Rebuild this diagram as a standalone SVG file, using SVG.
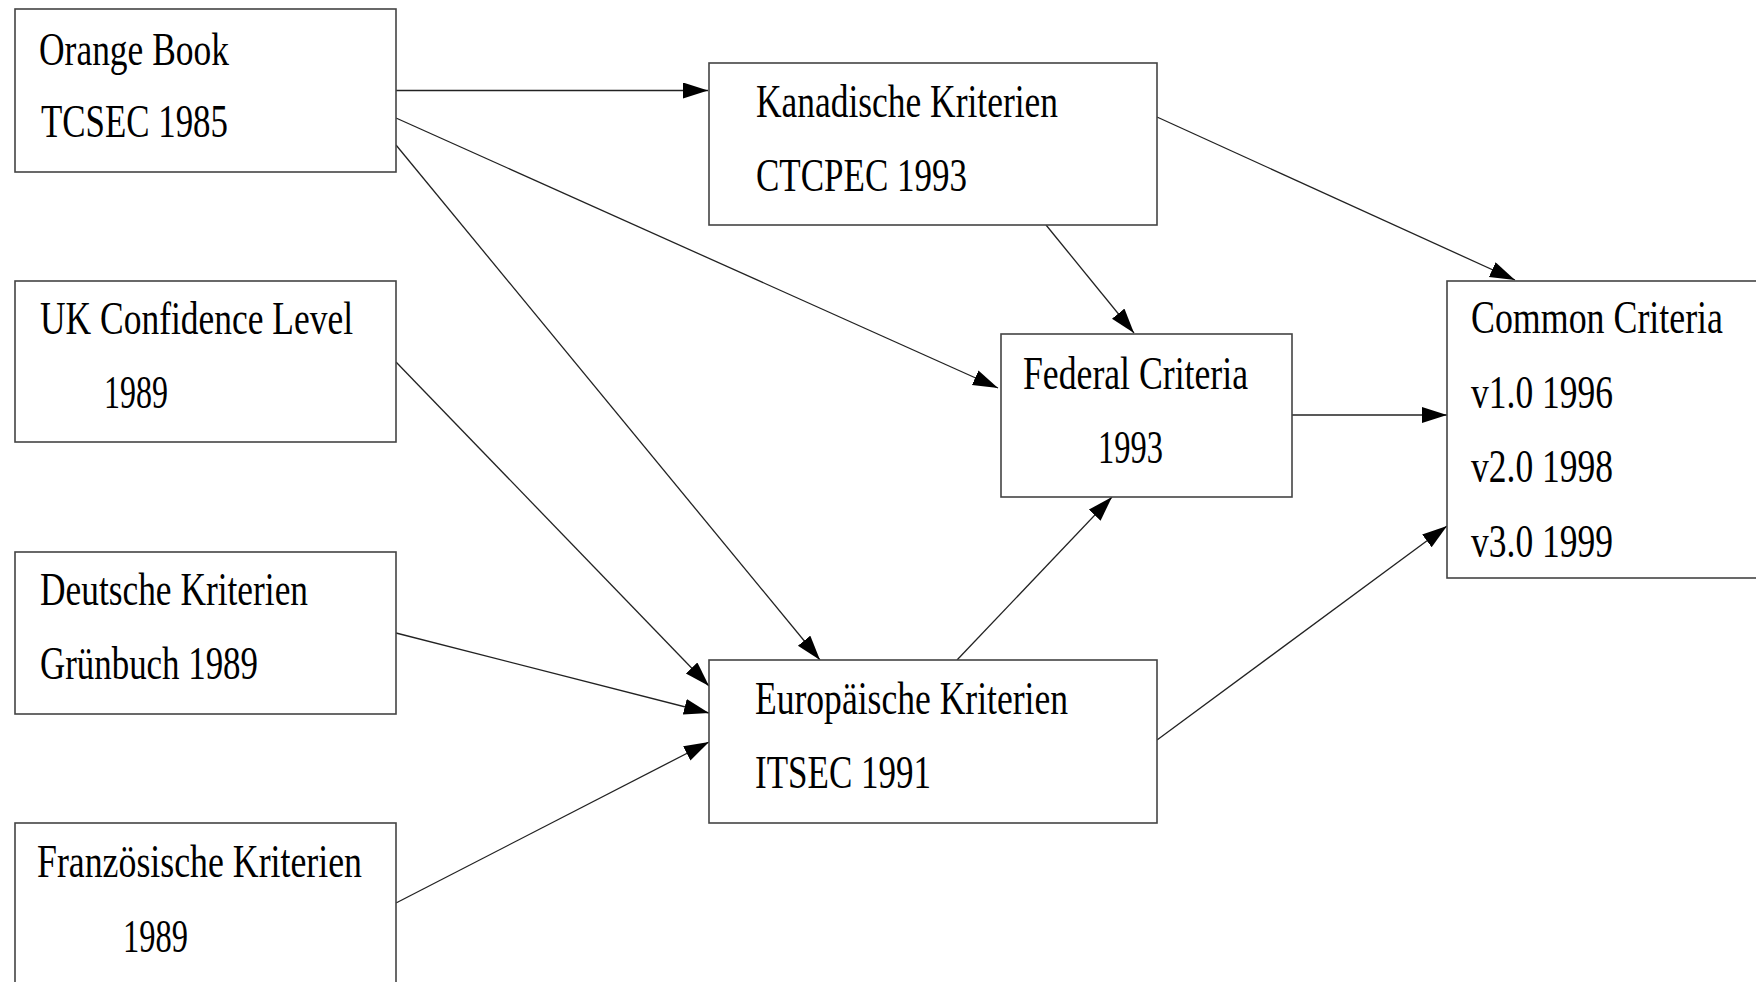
<svg xmlns="http://www.w3.org/2000/svg" width="1756" height="982" viewBox="0 0 1756 982">
<style>
.box{fill:#fff;stroke:#444;stroke-width:1.6}
.t{font-family:"Liberation Serif","Times New Roman",serif;font-size:46px;fill:#000}
.c{fill:none;stroke:#222;stroke-width:1.3}
</style>
<defs>
<marker id="ah" markerUnits="userSpaceOnUse" markerWidth="26" markerHeight="18" refX="25" refY="8" orient="auto">
<path d="M0,0 L25,8 L0,16 Z" fill="#000"/>
</marker>
</defs>
<rect width="1756" height="982" fill="#fff"/>
<g id="connectors">
<line class="c" x1="396" y1="90.5" x2="708" y2="90.5" marker-end="url(#ah)"/>
<line class="c" x1="396" y1="118" x2="998" y2="388" marker-end="url(#ah)"/>
<line class="c" x1="396" y1="145" x2="820" y2="660" marker-end="url(#ah)"/>
<line class="c" x1="396" y1="362" x2="709" y2="686" marker-end="url(#ah)"/>
<line class="c" x1="396" y1="633" x2="709" y2="713" marker-end="url(#ah)"/>
<line class="c" x1="396" y1="903" x2="709" y2="742" marker-end="url(#ah)"/>
<line class="c" x1="1046" y1="225" x2="1134" y2="333" marker-end="url(#ah)"/>
<line class="c" x1="1157" y1="117" x2="1515" y2="280" marker-end="url(#ah)"/>
<line class="c" x1="1292" y1="415" x2="1447" y2="415" marker-end="url(#ah)"/>
<line class="c" x1="957" y1="660" x2="1112" y2="497" marker-end="url(#ah)"/>
<line class="c" x1="1157" y1="740" x2="1447" y2="526" marker-end="url(#ah)"/>
</g>
<g id="orange-book">
<rect class="box" x="15" y="9" width="381" height="163"/>
<text class="t" x="39" y="65" textLength="190" lengthAdjust="spacingAndGlyphs">Orange Book</text>
<text class="t" x="41" y="137" textLength="187" lengthAdjust="spacingAndGlyphs">TCSEC 1985</text>
</g>
<g id="uk-confidence">
<rect class="box" x="15" y="281" width="381" height="161"/>
<text class="t" x="40" y="334" textLength="313" lengthAdjust="spacingAndGlyphs">UK Confidence Level</text>
<text class="t" x="104" y="408" textLength="64" lengthAdjust="spacingAndGlyphs">1989</text>
</g>
<g id="deutsche">
<rect class="box" x="15" y="552" width="381" height="162"/>
<text class="t" x="40" y="605" textLength="268" lengthAdjust="spacingAndGlyphs">Deutsche Kriterien</text>
<text class="t" x="40" y="679" textLength="218" lengthAdjust="spacingAndGlyphs">Grünbuch 1989</text>
</g>
<g id="franzoesische">
<rect class="box" x="15" y="823" width="381" height="175"/>
<text class="t" x="37" y="877" textLength="325" lengthAdjust="spacingAndGlyphs">Französische Kriterien</text>
<text class="t" x="123" y="952" textLength="65" lengthAdjust="spacingAndGlyphs">1989</text>
</g>
<g id="kanadische">
<rect class="box" x="709" y="63" width="448" height="162"/>
<text class="t" x="756" y="117" textLength="302" lengthAdjust="spacingAndGlyphs">Kanadische Kriterien</text>
<text class="t" x="756" y="191" textLength="211" lengthAdjust="spacingAndGlyphs">CTCPEC 1993</text>
</g>
<g id="europaeische">
<rect class="box" x="709" y="660" width="448" height="163"/>
<text class="t" x="755" y="714" textLength="313" lengthAdjust="spacingAndGlyphs">Europäische Kriterien</text>
<text class="t" x="755" y="788" textLength="176" lengthAdjust="spacingAndGlyphs">ITSEC 1991</text>
</g>
<g id="federal">
<rect class="box" x="1001" y="334" width="291" height="163"/>
<text class="t" x="1023" y="389" textLength="225" lengthAdjust="spacingAndGlyphs">Federal Criteria</text>
<text class="t" x="1098" y="463" textLength="65" lengthAdjust="spacingAndGlyphs">1993</text>
</g>
<g id="common-criteria">
<rect class="box" x="1447" y="281" width="330" height="297"/>
<text class="t" x="1471" y="333" textLength="252" lengthAdjust="spacingAndGlyphs">Common Criteria</text>
<text class="t" x="1471" y="408" textLength="142" lengthAdjust="spacingAndGlyphs">v1.0 1996</text>
<text class="t" x="1471" y="482" textLength="142" lengthAdjust="spacingAndGlyphs">v2.0 1998</text>
<text class="t" x="1471" y="557" textLength="142" lengthAdjust="spacingAndGlyphs">v3.0 1999</text>
</g>
</svg>
